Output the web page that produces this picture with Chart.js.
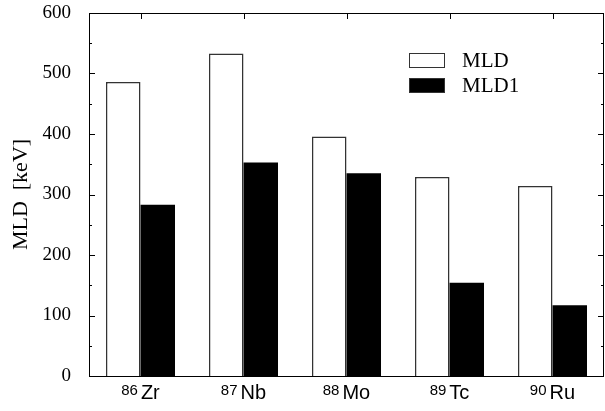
<!DOCTYPE html>
<html>
<head>
<meta charset="utf-8">
<script src="https://cdn.jsdelivr.net/npm/chart.js@4.4.0/dist/chart.umd.min.js"></script>
<style>
  html, body { margin: 0; padding: 0; background: #fff; }
  #wrap { width: 605px; height: 411px; position: relative; }
</style>
</head>
<body>
<div id="wrap"><canvas id="chart"></canvas></div>
<script>
// 카테고리와 값
var massNumbers = ["86", "87", "88", "89", "90"];
var elements = ["Zr", "Nb", "Mo", "Tc", "Ru"];
var mldValues = [486, 533, 396, 329, 314];
var mld1Values = [283, 353, 335, 154, 117];
var yTicks = [0, 100, 200, 300, 400, 500, 600];

var labels = elements.map(function (el, i) {
  return massNumbers[i] + el;
});

// 프레임, 안쪽 눈금, 범례, x축 라벨을 그리는 플러그인
var framePlugin = {
  id: 'frame',
  afterDraw: function (chart) {
    var ctx = chart.ctx;
    var a = chart.chartArea;
    var y = chart.scales.y;
    var x = chart.scales.x;
    ctx.save();
    ctx.strokeStyle = '#000';
    ctx.lineWidth = 1;
    ctx.strokeRect(a.left + 0.5, a.top + 0.5, a.right - a.left - 1, a.bottom - a.top);

    // 좌우 눈금
    ctx.beginPath();
    for (var v = 0; v <= 600; v += 50) {
      var py = Math.round(y.getPixelForValue(v)) + 0.5;
      var len = (v % 100 === 0) ? 6 : 3;
      ctx.moveTo(a.left, py); ctx.lineTo(a.left + len, py);
      ctx.moveTo(a.right, py); ctx.lineTo(a.right - len, py);
    }
    // 위쪽 눈금
    for (var i = 0; i < labels.length; i++) {
      var px = Math.round(x.getPixelForValue(i)) + 0.5;
      ctx.moveTo(px, a.top); ctx.lineTo(px, a.top + 6);
    }
    ctx.stroke();

    // x축 라벨 (위첨자 질량수)
    ctx.fillStyle = '#000';
    ctx.textBaseline = 'alphabetic';
    for (var j = 0; j < labels.length; j++) {
      var cx = x.getPixelForValue(j);
      ctx.font = '15px "Liberation Sans", Arial, sans-serif';
      var w1 = ctx.measureText(massNumbers[j]).width;
      ctx.font = '20px "Liberation Sans", Arial, sans-serif';
      var w2 = ctx.measureText(elements[j]).width;
      var start = cx - (w1 + w2 + 3) / 2;
      ctx.font = '15px "Liberation Sans", Arial, sans-serif';
      ctx.textAlign = 'left';
      ctx.fillText(massNumbers[j], start, 395);
      ctx.font = '20px "Liberation Sans", Arial, sans-serif';
      ctx.fillText(elements[j], start + w1 + 3, 399);
    }

    // 범례
    var ds = chart.data.datasets;
    for (var k = 0; k < ds.length; k++) {
      var ly = 53 + k * 25;
      ctx.fillStyle = ds[k].backgroundColor;
      ctx.fillRect(409, ly, 36, 15);
      ctx.strokeStyle = '#333';
      ctx.lineWidth = 1;
      ctx.strokeRect(409.5, ly + 0.5, 35, 14);
      ctx.fillStyle = '#000';
      ctx.font = '21px "Liberation Serif", "Times New Roman", serif';
      ctx.textAlign = 'left';
      ctx.textBaseline = 'middle';
      ctx.fillText(ds[k].label, 462, ly + 8);
    }
    ctx.restore();
  }
};

var ctx = document.getElementById('chart').getContext('2d');
new Chart(ctx, {
  type: 'bar',
  data: {
    labels: labels,
    datasets: [
      {
        label: 'MLD',
        data: mldValues,
        backgroundColor: '#ffffff',
        borderColor: '#333333',
        borderWidth: 1.5,
        borderSkipped: 'bottom'
      },
      {
        label: 'MLD1',
        data: mld1Values,
        backgroundColor: '#000000',
        borderColor: '#000000',
        borderWidth: 0
      }
    ]
  },
  options: {
    responsive: true,
    maintainAspectRatio: false,
    animation: false,
    categoryPercentage: 0.67,
    barPercentage: 1.0,
    layout: { padding: { top: 13, right: 1, left: 0, bottom: 0 } },
    plugins: {
      legend: { display: false },
      tooltip: { enabled: false }
    },
    scales: {
      x: {
        grid: { display: false },
        border: { display: false },
        ticks: { display: false },
        afterFit: function (s) { s.height = 35; }
      },
      y: {
        min: 0,
        max: 600,
        afterBuildTicks: function (s) {
          s.ticks = yTicks.map(function (v) { return { value: v }; });
        },
        grid: { display: false },
        border: { display: false },
        ticks: {
          color: '#000',
          padding: 10,
          font: { family: '"Liberation Serif", "Times New Roman", serif', size: 19 }
        },
        title: {
          display: true,
          text: 'MLD  [keV]',
          color: '#000',
          font: { family: '"Liberation Serif", "Times New Roman", serif', size: 22 },
          padding: { top: 8, bottom: 0 }
        },
        afterFit: function (s) {
          s.width = 89;
          s.paddingTop = 0;
          s.paddingBottom = 0;
        }
      }
    }
  },
  plugins: [framePlugin]
});
</script>
</body>
</html>
